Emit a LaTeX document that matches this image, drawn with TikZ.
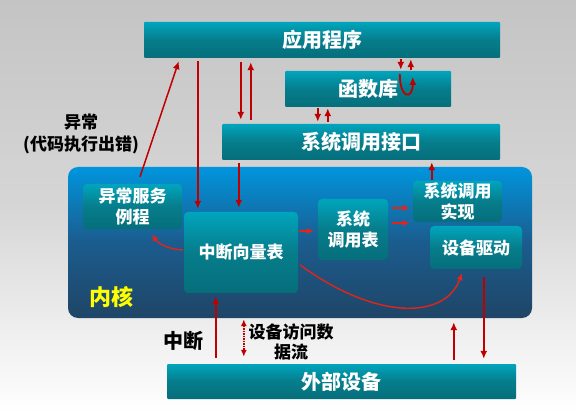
\documentclass[tikz,border=0pt]{standalone}
\usepackage{fontspec}
\setmainfont{Noto Sans CJK SC}
\usepackage{tikz}
\usetikzlibrary{arrows.meta}
\definecolor{BarTop}{HTML}{00A5BD}
\definecolor{BarMid}{HTML}{067D8B}
\definecolor{BarBot}{HTML}{066E7B}
\definecolor{KernTop}{HTML}{0095DD}
\definecolor{KernMid}{HTML}{1B5C8E}
\definecolor{KernBot}{HTML}{1F4566}
\definecolor{BackTop}{HTML}{C4C4C4}
\definecolor{BackMid}{HTML}{D6D6D6}
\definecolor{FlowRed}{HTML}{C00000}
\definecolor{CurveRed}{HTML}{E3241C}
\definecolor{KernYellow}{HTML}{FFFF00}

\begin{document}
\begin{tikzpicture}[x=1pt,y=-1pt,>={Latex[length=8pt,width=7pt]}]
\tikzstyle{back}=[rectangle,top color=BackTop,bottom color=white,middle color=BackMid,
                  minimum width=576pt,minimum height=414pt,inner sep=0pt,outer sep=0pt]
\tikzstyle{kern}=[rectangle,rounded corners=10pt,top color=KernTop,bottom color=KernBot,
                  middle color=KernMid,minimum width=464pt,minimum height=151pt,inner sep=0pt]
\tikzstyle{bar}=[rectangle,rounded corners=1pt,top color=BarTop,bottom color=BarBot,middle color=BarMid,
                 text=white,font=\bfseries\fontsize{20}{24}\selectfont,minimum height=36pt,inner sep=0pt]
\tikzstyle{blk}=[rectangle,rounded corners=4pt,top color=BarTop,bottom color=BarBot,middle color=BarMid,
                 text=white,font=\bfseries\fontsize{17}{21}\selectfont,align=center,inner sep=0pt]
\tikzstyle{lbl}=[text=black,font=\bfseries\fontsize{17}{21}\selectfont,align=center,inner sep=0pt]
\tikzstyle{flow}=[->,draw=FlowRed,fill=FlowRed,line width=1.5pt]
\tikzstyle{link}=[->,draw=CurveRed,line width=1.4pt,>={Latex[length=7pt,width=6.5pt]}]
\useasboundingbox (0,0) rectangle (576,414);
\node[back] (bg) at (288,207) {};
\node[kern] (kern) at (300,242.5) {};
\node[bar,minimum width=356pt] (app) at (322,40) {应用程序};
\node[bar,minimum width=166pt] (lib) at (368,89) {函数库};
\node[bar,minimum width=278pt] (sci) at (361,142) {系统调用接口};
\node[bar,minimum width=349pt,minimum height=35pt] (dev) at (341.5,381.5) {外部设备};
\node[blk,minimum width=99pt,minimum height=45pt] (exc) at (132.5,206.5) {异常服务\\例程};
\node[blk,minimum width=114pt,minimum height=81pt] (ivt) at (241,252.5) {中断向量表};
\node[blk,minimum width=70pt,minimum height=61pt] (sct) at (353,229.5) {系统\\调用表};
\node[blk,minimum width=89pt,minimum height=41pt] (impl) at (457.5,201.5) {系统调用\\实现};
\node[blk,minimum width=92pt,minimum height=43pt] (drv) at (476,247.5) {设备驱动};
\node[lbl,text=KernYellow,font=\bfseries\fontsize{22}{26}\selectfont] (kname) at (111,297) {内核};
\node[lbl,font=\bfseries\fontsize{17}{22}\selectfont] (exclbl) at (81,134) {异常\\(代码执行出错)};
\node[lbl,font=\bfseries\fontsize{20}{24}\selectfont] (irqlbl) at (183,341) {中断};
\node[lbl,font=\bfseries\fontsize{17}{20}\selectfont] (datalbl) at (291,342) {设备访问数\\据流};
\draw[flow] ([xshift=7.5pt,yshift=7pt]exc.north) -- ([xshift=35pt,yshift=-3pt]app.south west);
\draw[flow] ([xshift=54pt,yshift=-3pt]app.south west) -- ([xshift=14pt,yshift=3pt]ivt.north west);
\draw[flow] ([xshift=97pt,yshift=-4pt]app.south west) -- ([xshift=19pt,yshift=4pt]sci.north west);
\draw[flow] ([xshift=29pt,yshift=4pt]sci.north west) -- ([xshift=107pt,yshift=-4pt]app.south west);
\draw[flow] ([xshift=17pt,yshift=-3pt]sci.south west) -- ([xshift=55pt,yshift=4pt]ivt.north west);
\draw[flow] ([xshift=33pt,yshift=-1pt]lib.south west) -- ([xshift=96pt,yshift=2pt]sci.north west);
\draw[flow] ([xshift=106pt,yshift=2pt]sci.north west) -- ([xshift=43pt,yshift=-1pt]lib.south west);
\draw[flow] ([xshift=257pt,yshift=-1pt]app.south west) -- ([xshift=116pt,yshift=1pt]lib.north west);
\draw[flow] ([xshift=126pt,yshift=1pt]lib.north west) -- ([xshift=267pt,yshift=-1pt]app.south west);
\draw[flow,fill=none,line width=1.8pt] ([xshift=115pt,yshift=-3pt]lib.north west)
  .. controls +(0,26) and +(0,23) .. ([xshift=128pt,yshift=-6pt]lib.north west);
\draw[flow] ([xshift=19pt,yshift=1pt]impl.north west) -- ([xshift=210pt,yshift=-2pt]sci.south west);
\draw[link] ([xshift=1pt,yshift=21.5pt]ivt.east) -- ([xshift=-4pt,yshift=-1.5pt]sct.west);
\draw[link] ([xshift=4pt,yshift=21.5pt]sct.east) -- ([xshift=-3pt,yshift=-6.5pt]impl.west);
\draw[link] ([xshift=4pt,yshift=6.5pt]sct.east) -- ([xshift=-3pt,yshift=-21.5pt]impl.west);
\draw[link] ([xshift=-1pt,yshift=2.5pt]ivt.west)
  .. controls +(-17,-1) and +(5,8) .. ([xshift=19.5pt,yshift=-5pt]exc.south);
\draw[link] ([xshift=2pt,yshift=-12.5pt]ivt.east)
  .. controls +(75,55) and +(-17,47) .. ([xshift=-14pt,yshift=-4pt]drv.south);
\draw[flow] ([xshift=49pt,yshift=6pt]dev.north west) -- ([xshift=32pt,yshift=-3pt]ivt.south west);
\draw[flow,<->,densely dotted,>={Latex[length=7pt,width=6pt]}] ([xshift=176pt,yshift=-1pt]kern.south west)
  -- ([xshift=77pt,yshift=7pt]dev.north west);
\draw[flow] ([xshift=287pt,yshift=4pt]dev.north west) -- ([xshift=386pt,yshift=-4pt]kern.south west);
\draw[flow] ([xshift=54pt,yshift=-8pt]drv.south west) -- ([xshift=317pt,yshift=5pt]dev.north west);
\end{tikzpicture}
\end{document}
